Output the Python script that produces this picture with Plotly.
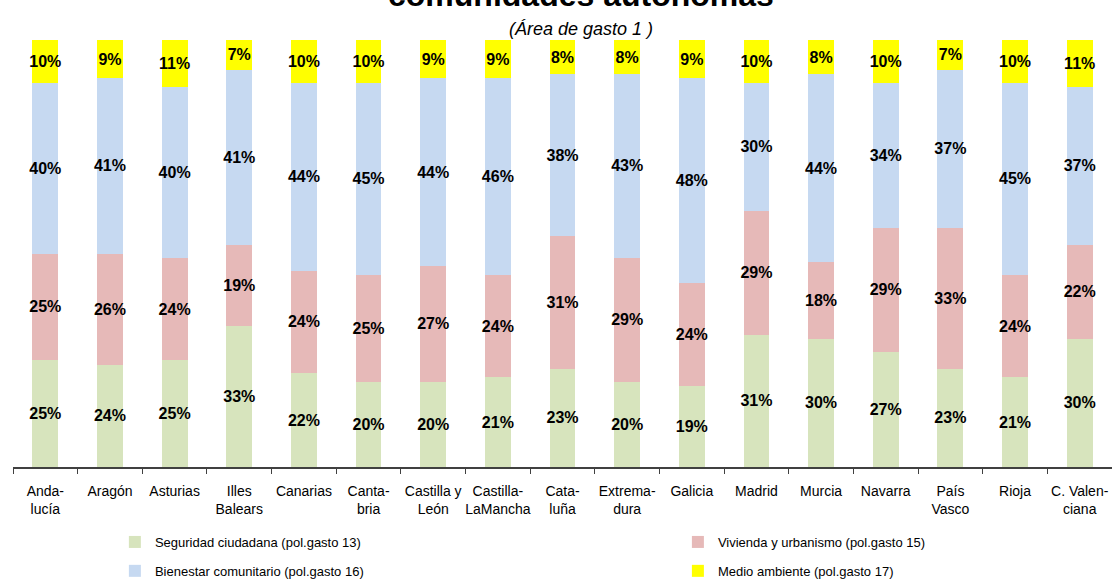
import plotly.graph_objects as go

categories = ["Anda-<br>lucía", "Aragón", "Asturias", "Illes<br>Balears", "Canarias",
              "Canta-<br>bria", "Castilla y<br>León", "Castilla-<br>LaMancha", "Cata-<br>luña",
              "Extrema-<br>dura", "Galicia", "Madrid", "Murcia", "Navarra", "País<br>Vasco",
              "Rioja", "C. Valen-<br>ciana"]

seguridad = [25, 24, 25, 33, 22, 20, 20, 21, 23, 20, 19, 31, 30, 27, 23, 21, 30]
vivienda = [25, 26, 24, 19, 24, 25, 27, 24, 31, 29, 24, 29, 18, 29, 33, 24, 22]
bienestar = [40, 41, 40, 41, 44, 45, 44, 46, 38, 43, 48, 30, 44, 34, 37, 45, 37]
medio = [10, 9, 11, 7, 10, 10, 9, 9, 8, 8, 9, 10, 8, 10, 7, 10, 11]

series = [
    ("Seguridad ciudadana (pol.gasto 13)", seguridad, "#D7E4BD", "legend"),
    ("Vivienda y urbanismo (pol.gasto 15)", vivienda, "#E6B9B8", "legend2"),
    ("Bienestar comunitario (pol.gasto 16)", bienestar, "#C6D9F1", "legend"),
    ("Medio ambiente (pol.gasto 17)", medio, "#FFFF00", "legend2"),
]

FONT = "Liberation Sans, Arial, sans-serif"

fig = go.Figure()
for name, vals, color, leg in series:
    fig.add_trace(go.Bar(
        x=categories, y=vals, name=name, legend=leg, legendgroup=name,
        marker=dict(color=color, line=dict(width=0)),
        text=[f"{v}%" for v in vals],
        textposition="inside", insidetextanchor="middle", textangle=0,
        textfont=dict(family=FONT, size=16, color="#000000", weight="bold"),
        hoverinfo="skip",
    ))

legend_common = dict(orientation="v", yanchor="top", xanchor="left", traceorder="grouped",
                     font=dict(family=FONT, size=13, color="#000000"),
                     itemwidth=30, tracegroupgap=9, bgcolor="rgba(0,0,0,0)")

fig.update_layout(
    barmode="stack", barnorm="percent", bargap=0.6,
    width=1112, height=581,
    margin=dict(l=13, r=0, t=40, b=114, autoexpand=False),
    paper_bgcolor="white", plot_bgcolor="white",
    font=dict(family=FONT, size=14, color="#000000"),
    uniformtext=dict(mode="show", minsize=16),
    showlegend=True,
    legend=dict(x=0.0927, y=-0.1405, **legend_common),
    legend2=dict(x=0.605, y=-0.1405, **legend_common),
    xaxis=dict(showline=True, linecolor="#404040", linewidth=1.5,
               ticks="outside", tickson="boundaries", ticklen=5, tickcolor="#404040",
               tickangle=0, ticklabelstandoff=10,
               tickfont=dict(family=FONT, size=14, color="#000000"),
               showgrid=False, zeroline=False),
    yaxis=dict(visible=False, range=[0, 100], showgrid=False, zeroline=False),
    annotations=[
        dict(text="<b>comunidades autónomas</b>", xref="paper", yref="paper",
             x=0.517, y=1.058, xanchor="center", yanchor="bottom", showarrow=False,
             font=dict(family=FONT, size=32, color="#000000")),
        dict(text="<i>(Área de gasto 1 )</i>", xref="paper", yref="paper",
             x=0.517, y=1.026, xanchor="center", yanchor="middle", showarrow=False,
             font=dict(family=FONT, size=18, color="#000000")),
    ],
)

fig.write_html("out.html", config={"displayModeBar": False},
               post_script="document.body.style.margin='0';")
